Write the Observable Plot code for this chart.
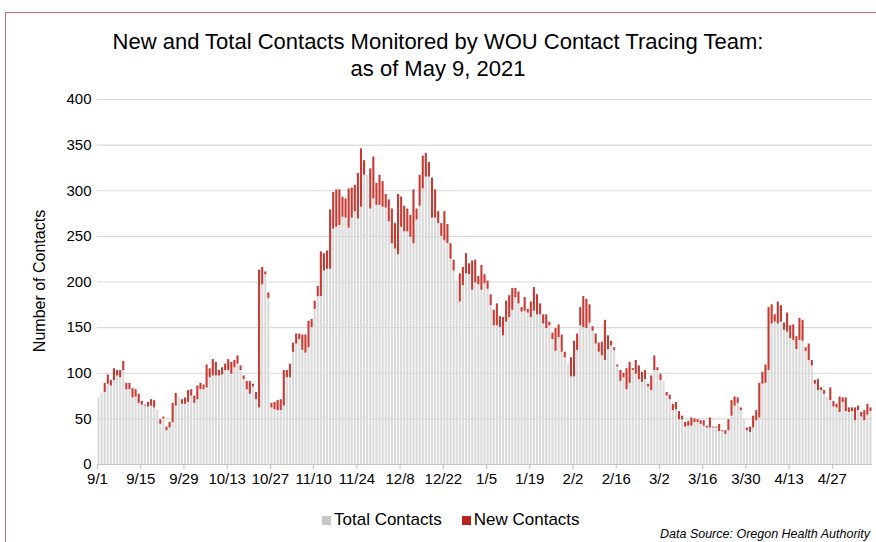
<!DOCTYPE html>
<html><head><meta charset="utf-8">
<script src="https://cdn.jsdelivr.net/npm/d3@7"></script>
<script src="https://cdn.jsdelivr.net/npm/@observablehq/plot@0.6"></script>
<style>
body{margin:0;width:876px;height:542px;overflow:hidden;background:#fff;font-family:"Liberation Sans",Arial,sans-serif;position:relative}
#frame{position:absolute;left:5px;top:12px;width:900px;height:600px;border-top:1.5px solid #d46a6a;border-left:1.5px solid #d46a6a}
#title{position:absolute;left:0;width:876px;top:28px;text-align:center;font-size:22px;line-height:27px;color:#000}
#chart{position:absolute;left:0;top:85px}
#ylabel{position:absolute;left:40px;top:281px;transform:translate(-50%,-50%) rotate(-90deg);font-size:16px;white-space:nowrap;color:#000}
#legend{position:absolute;left:322px;top:510px;font-size:17px;display:flex;align-items:center;color:#000}
.sw{display:inline-block;width:9px;height:9px;margin-right:3px}
#source{position:absolute;left:660px;top:527px;font-size:12.5px;font-style:italic;white-space:nowrap;color:#000}
</style></head>
<body>
<div id="frame"></div>
<div id="title">New and Total Contacts Monitored by WOU Contact Tracing Team:<br>as of May 9, 2021</div>
<div id="chart"></div>
<div id="ylabel">Number of Contacts</div>
<div id="legend"><span class="sw" style="background:#c8c8c8"></span>Total Contacts<span style="display:inline-block;width:20px"></span><span class="sw" style="background:#b8231f"></span>New Contacts</div>
<div id="source">Data Source: Oregon Health Authority</div>
<script>
// Daily values, 9/1/2020 .. 5/9/2021 (251 days)
const startDay = "2020-09-01";
const endDay = "2021-05-09";
const totalContacts = [
73,78,79,88,86,92,97,95,103,82,
82,73,74,67,65,64,63,64,62,60,
44,50,37,40,46,64,73,66,66,68,
75,67,71,82,82,84,95,97,97,97,
98,103,103,99,106,110,103,93,82,77,
85,71,62,197,208,182,62,60,59,59,
64,95,95,123,132,137,125,122,128,150,
170,184,184,212,214,214,258,260,262,271,
270,259,270,277,269,282,317,317,280,291,
284,284,282,281,266,242,236,230,260,255,
255,249,242,268,283,302,315,315,270,270,
264,250,245,242,225,212,201,178,196,209,
208,191,199,197,191,198,192,174,152,152,
150,141,156,161,169,183,176,167,168,166,
161,168,164,164,154,149,152,137,124,139,
123,117,110,96,96,125,152,150,149,155,
146,132,123,119,114,126,130,125,107,91,
95,82,89,103,99,93,90,93,85,81,
103,103,92,91,75,71,59,60,49,49,
41,42,42,46,46,44,42,40,40,40,
40,36,36,33,37,53,64,67,59,49,
37,35,40,48,51,88,89,103,154,156,
154,156,147,145,138,136,126,136,135,124,
114,108,88,81,81,77,74,70,63,62,
57,68,58,57,58,48,59,52,48,54,
58];
const newContacts = [
0,0,10,10,6,13,6,8,10,7,
7,10,8,10,4,1,5,7,8,0,
5,2,4,6,21,14,0,5,7,13,
7,8,15,7,5,25,10,18,15,6,
8,7,12,13,8,9,5,4,9,14,
3,8,151,19,3,6,5,8,11,12,
39,8,15,10,11,6,17,20,29,9,
9,11,49,19,20,65,40,41,39,22,
21,43,33,29,50,64,16,0,44,46,
24,33,28,15,24,38,28,66,33,28,
25,24,59,12,34,36,26,16,44,31,
13,14,32,21,17,12,0,31,20,22,
12,32,25,9,27,10,9,12,17,24,
12,20,23,24,24,10,13,5,15,4,
17,26,22,12,10,15,4,7,25,14,
19,6,0,21,39,18,20,34,32,20,
5,11,10,15,44,15,5,3,2,12,
5,23,23,2,15,15,11,10,3,16,
16,3,7,0,4,5,7,8,9,4,
5,5,9,4,3,4,6,2,11,1,
1,8,1,4,12,17,10,6,3,0,
3,6,13,11,38,13,20,69,21,8,
24,18,8,21,14,17,14,24,23,4,
18,6,4,12,3,4,0,14,6,4,
17,5,15,5,4,14,5,5,11,12,
4];
const xTickLabels = ["9/1","9/15","9/29","10/13","10/27","11/10","11/24","12/8","12/22","1/5","1/19","2/2","2/16","3/2","3/16","3/30","4/13","4/27"];
const xTickYears  = [2020,2020,2020,2020,2020,2020,2020,2020,2020,2021,2021,2021,2021,2021,2021,2021,2021,2021];
const yTicks = [0,50,100,150,200,250,300,350,400];
const seriesNames = ["Total Contacts","New Contacts"];
const seriesColors = ["#dadada","#c73a34"];

const start = new Date(startDay + "T00:00:00Z");
const end = d3.utcDay.offset(new Date(endDay + "T00:00:00Z"), 1);
const dates = d3.utcDay.range(start, end);

const rows = [];
dates.forEach((d, i) => rows.push({date: d, series: seriesNames[0], value: totalContacts[i]}));
dates.forEach((d, i) => rows.push({date: d, series: seriesNames[1], value: newContacts[i]}));

const tickDates = xTickLabels.map((s, i) => {
  const [m, d] = s.split("/").map(Number);
  return new Date(Date.UTC(xTickYears[i], m - 1, d));
});
const labelByTime = new Map(tickDates.map((d, i) => [d.getTime(), xTickLabels[i]]));

const chart = Plot.plot({
  width: 876, height: 405,
  marginLeft: 97, marginRight: 4, marginTop: 14, marginBottom: 26,
  style: {fontFamily: "Liberation Sans, Arial, sans-serif", fontSize: "15px", color: "#000", background: "transparent"},
  x: {type: "utc", domain: [start, end]},
  y: {domain: [0, 400]},
  color: {domain: seriesNames, range: seriesColors},
  marks: [
    Plot.gridY(yTicks, {stroke: "#d9d9d9", strokeOpacity: 1, strokeWidth: 1.2}),
    Plot.rectY(rows, {x: "date", interval: "day", y: "value", fill: "series", insetLeft: 0.5, insetRight: 0.5}),
    Plot.ruleY([0], {stroke: "#c4c4c4"}),
    Plot.axisX(tickDates, {tickFormat: d => labelByTime.get(d.getTime()), tickSize: 5, tickPadding: 4, stroke: "#bfbfbf", label: null}),
    Plot.axisY(yTicks, {tickSize: 0, tickPadding: 6, label: null})
  ]
});
document.getElementById("chart").appendChild(chart);
</script>
</body></html>
